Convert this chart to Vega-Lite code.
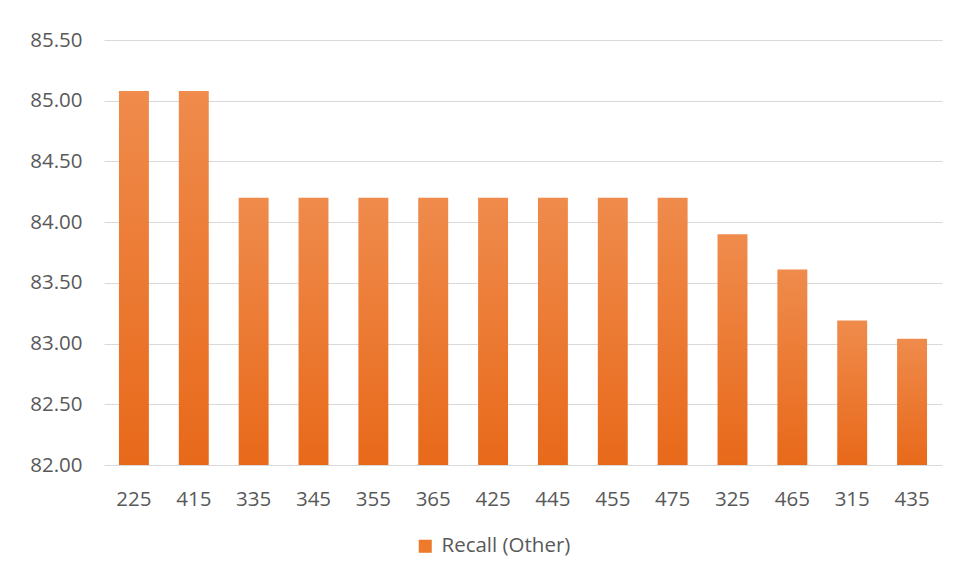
{
  "$schema": "https://vega.github.io/schema/vega-lite/v6.json",
  "autosize": {"type": "none"},
  "width": 838,
  "height": 425,
  "padding": {"left": 104, "top": 40, "right": 16, "bottom": 118},
  "background": "white",
  "data": {
    "values": [
      {"setting": "225", "recall": 85.08},
      {"setting": "415", "recall": 85.08},
      {"setting": "335", "recall": 84.2},
      {"setting": "345", "recall": 84.2},
      {"setting": "355", "recall": 84.2},
      {"setting": "365", "recall": 84.2},
      {"setting": "425", "recall": 84.2},
      {"setting": "445", "recall": 84.2},
      {"setting": "455", "recall": 84.2},
      {"setting": "475", "recall": 84.2},
      {"setting": "325", "recall": 83.9},
      {"setting": "465", "recall": 83.61},
      {"setting": "315", "recall": 83.19},
      {"setting": "435", "recall": 83.04}
    ]
  },
  "mark": {
    "type": "bar",
    "fill": {
      "x1": 0, "y1": 0, "x2": 0, "y2": 1,
      "gradient": "linear",
      "stops": [
        {"offset": 0, "color": "#EF8B4C"},
        {"offset": 1, "color": "#E8691A"}
      ]
    }
  },
  "encoding": {
    "x": {
      "field": "setting",
      "type": "nominal",
      "sort": null,
      "scale": {"paddingInner": 0.5, "paddingOuter": 0.25},
      "axis": {
        "title": null,
        "labelAngle": 0,
        "ticks": false,
        "domain": false,
        "labelPadding": 24,
        "labelFontSize": 20.5
      }
    },
    "y": {
      "field": "recall",
      "type": "quantitative",
      "scale": {"domain": [82, 85.5], "zero": false, "nice": false},
      "axis": {
        "title": null,
        "values": [82, 82.5, 83, 83.5, 84, 84.5, 85, 85.5],
        "format": ".2f",
        "ticks": false,
        "domain": false,
        "grid": true,
        "labelPadding": 22,
        "labelFontSize": 20.5
      }
    },
    "y2": {"datum": 82},
    "color": {
      "datum": "Recall (Other)",
      "scale": {"range": ["#EE7A2C"]},
      "legend": {
        "title": null,
        "orient": "none",
        "legendX": 311,
        "legendY": 496,
        "symbolType": "square",
        "symbolSize": 170,
        "labelFontSize": 20.5,
        "labelOffset": 6
      }
    }
  },
  "config": {
    "font": "Open Sans",
    "view": {"stroke": null},
    "axis": {
      "labelColor": "#595959",
      "labelFont": "Open Sans",
      "gridColor": "#D9D9D9",
      "gridWidth": 1.2
    },
    "legend": {
      "labelColor": "#595959",
      "labelFont": "Open Sans"
    }
  }
}
